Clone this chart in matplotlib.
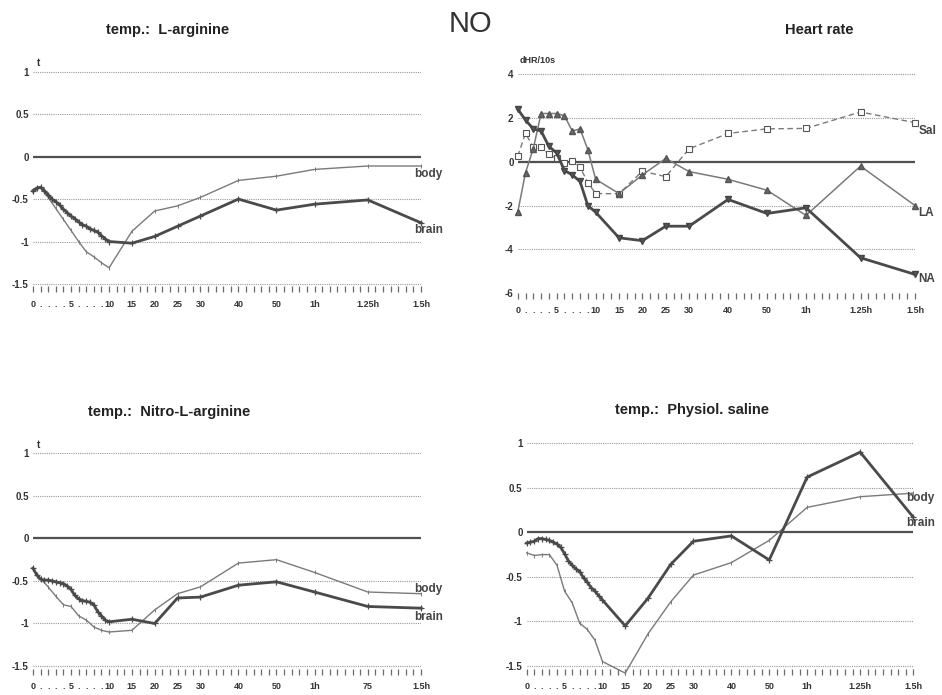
import numpy as np
import matplotlib.pyplot as plt

plt.rcParams['font.family'] = ['Liberation Sans', 'DejaVu Sans']

# time points (minutes)
t_min = [0, 1, 2, 3, 4, 5, 6, 7, 8, 9, 10]
t_half = [0, 0.5, 1, 1.5, 2, 2.5, 3, 3.5, 4, 4.5, 5, 5.5, 6, 6.5, 7, 7.5,
          8, 8.5, 9, 9.5, 10]
t_late = [15, 20, 25, 30, 40, 50, 60, 75, 90]

tick_pos = [0, 1, 2, 3, 4, 5, 6, 7, 8, 9, 10, 15, 20, 25, 30, 40, 50, 60, 75, 90]
tick_lab = ['0', '.', '.', '.', '.', '5', '.', '.', '.', '.', '10',
            '15', '20', '25', '30', '40', '50', '1h', '1.25h', '1.5h']
tick_lab_nla = tick_lab[:-2] + ['75', '1.5h']

temp_ticks = [1, 0.5, 0, -0.5, -1, -1.5]
temp_labels = ['1', '0.5', '0', '-0.5', '-1', '-1.5']
hr_ticks = [4, 2, 0, -2, -4, -6]
hr_labels = ['4', '2', '0', '-2', '-4', '-6']

# temp.: L-arginine
la_body = [-0.42, -0.36, -0.48, -0.61, -0.74, -0.87, -1.0, -1.12, -1.18, -1.25, -1.31,
           -0.88, -0.64, -0.58, -0.48, -0.28, -0.23, -0.15, -0.11, -0.11]
la_brain = [-0.40, -0.37, -0.36, -0.40, -0.45, -0.50, -0.53, -0.57, -0.62, -0.66, -0.70,
            -0.73, -0.77, -0.80, -0.82, -0.85, -0.87, -0.89, -0.93, -0.97, -1.00,
            -1.02, -0.94, -0.82, -0.70, -0.50, -0.63, -0.56, -0.51, -0.78]

# heart rate
hr_na = [2.4, 1.9, 1.5, 1.4, 0.7, 0.4, -0.4, -0.6, -0.9, -2.0, -2.3,
         -3.47, -3.6, -2.94, -2.94, -1.72, -2.36, -2.1, -4.38, -5.14]
hr_la = [-2.3, -0.5, 0.6, 2.2, 2.2, 2.2, 2.1, 1.4, 1.5, 0.55, -0.8,
         -1.45, -0.6, 0.15, -0.45, -0.8, -1.3, -2.45, -0.2, -2.0]
hr_sal = [0.25, 1.3, 0.65, 0.65, 0.35, 0.15, -0.05, 0.05, -0.25, -0.95, -1.45,
          -1.46, -0.43, -0.68, 0.59, 1.29, 1.5, 1.52, 2.27, 1.78]

# temp.: Nitro-L-arginine
nla_body = [-0.36, -0.47, -0.57, -0.68, -0.78, -0.80, -0.91, -0.96, -1.04, -1.08, -1.10,
            -1.08, -0.84, -0.65, -0.57, -0.29, -0.25, -0.40, -0.63, -0.65]
nla_brain = [-0.35, -0.43, -0.48, -0.49, -0.49, -0.50, -0.51, -0.52, -0.53, -0.56, -0.60,
             -0.67, -0.71, -0.73, -0.74, -0.75, -0.78, -0.86, -0.91, -0.96, -0.98,
             -0.95, -1.00, -0.70, -0.69, -0.55, -0.51, -0.63, -0.80, -0.82]

# temp.: Physiol. saline
sal_body = [-0.23, -0.26, -0.25, -0.25, -0.37, -0.66, -0.79, -1.02, -1.09, -1.21, -1.45,
            -1.58, -1.14, -0.78, -0.48, -0.34, -0.09, 0.28, 0.40, 0.44]
sal_brain = [-0.12, -0.11, -0.10, -0.07, -0.07, -0.08, -0.09, -0.11, -0.13, -0.17, -0.24,
             -0.32, -0.37, -0.41, -0.44, -0.51, -0.56, -0.62, -0.66, -0.71, -0.76,
             -1.05, -0.74, -0.36, -0.10, -0.04, -0.31, 0.62, 0.90, 0.17]

# piecewise time axis used in the original plots
knot_min = [-30, 0, 10, 30, 60, 90, 200]
knot_pos = [-30, 0, 10, 22, 37, 51, 102.33]


def fwd(m):
    return np.interp(m, knot_min, knot_pos)


def inv(p):
    return np.interp(p, knot_pos, knot_min)


DARK = '#4a4a4a'
MID = '#7a7a7a'


def setup(ax, yt, yl, ylim, labels):
    ax.set_xscale('function', functions=(fwd, inv))
    ax.set_xlim(0, 90)
    ax.set_ylim(*ylim)
    for s in ax.spines.values():
        s.set_visible(False)
    for y in yt:
        if y == 0:
            ax.axhline(y, color='#505050', lw=1.6, zorder=1)
        else:
            ax.axhline(y, color='#9a9a9a', lw=0.8, ls=(0, (1, 1)), zorder=1)
    ax.set_yticks(yt)
    ax.set_yticklabels(yl, fontsize=7, fontweight='bold', color='#333333')
    ax.tick_params(axis='y', length=0, pad=3)
    ax.set_xticks(tick_pos)
    ax.set_xticklabels(labels, fontsize=6.5, fontweight='bold', color='#333333')
    minor = [inv(k) for k in range(52) if inv(k) not in tick_pos]
    ax.set_xticks(minor, minor=True)
    ax.tick_params(axis='x', which='both', length=4.5, width=0.9, color='#6a6a6a',
                   direction='out', pad=5)


def temp_panel(ax, body, brain, labels, body_lbl_y, brain_lbl_y):
    setup(ax, temp_ticks, temp_labels, (-1.53, 1.02), labels)
    ax.plot(t_min + t_late, body, color=MID, lw=1.0, marker='|', ms=3,
            mew=0.7, clip_on=False, zorder=3)
    ax.plot(t_half + t_late, brain, color=DARK, lw=2.0, marker='+', ms=5,
            mew=0.9, clip_on=False, zorder=4)
    ax.text(88, body_lbl_y, 'body', fontsize=8.5, fontweight='bold', color='#444444',
            va='center', ha='left')
    ax.text(88, brain_lbl_y, 'brain', fontsize=8.5, fontweight='bold', color='#444444',
            va='center', ha='left')
    ax.text(0.5, 1.1, 't', fontsize=7, fontweight='bold', color='#333333',
            va='center', ha='left')


fig = plt.figure(figsize=(9.42, 6.95), dpi=100)

ax1 = fig.add_axes([0.035, 0.5878, 0.412, 0.3113])
temp_panel(ax1, la_body, la_brain, tick_lab, -0.21, -0.86)

ax2 = fig.add_axes([0.5496, 0.578, 0.4218, 0.318])
setup(ax2, hr_ticks, hr_labels, (-6, 4.08), tick_lab)
tm = t_min + t_late
ax2.plot(tm, hr_sal, color=MID, lw=1.0, ls=(0, (4, 2.5)), marker='s', ms=4.5,
         mfc='white', mec='#555555', mew=0.8, clip_on=False, zorder=3)
ax2.plot(tm, hr_la, color=MID, lw=1.1, marker='^', ms=5, mfc='#666666',
         mec='#555555', clip_on=False, zorder=4)
ax2.plot(tm, hr_na, color=DARK, lw=2.0, marker='v', ms=5, mfc='#555555',
         mec='#444444', clip_on=False, zorder=5)
ax2.text(91, 1.4, 'Sal', fontsize=8.5, fontweight='bold', color='#444444', va='center')
ax2.text(91, -2.36, 'LA', fontsize=8.5, fontweight='bold', color='#444444', va='center')
ax2.text(91, -5.37, 'NA', fontsize=8.5, fontweight='bold', color='#444444', va='center')
ax2.text(0.3, 4.6, 'dHR/10s', fontsize=6.5, fontweight='bold', color='#333333',
         va='center', ha='left')

ax3 = fig.add_axes([0.035, 0.038, 0.412, 0.3122])
temp_panel(ax3, nla_body, nla_brain, tick_lab_nla, -0.59, -0.92)

ax4 = fig.add_axes([0.5591, 0.0379, 0.4104, 0.3269])
temp_panel(ax4, sal_body, sal_brain, tick_lab, 0.38, 0.11)
ax4.texts[-1].remove()

fig.text(0.178, 0.957, 'temp.:  L-arginine', fontsize=10.5, fontweight='bold',
         color='#222222', ha='center', va='center')
fig.text(0.499, 0.966, 'NO', fontsize=21, color='#333333', ha='center', va='center')
fig.text(0.870, 0.957, 'Heart rate', fontsize=10.5, fontweight='bold',
         color='#222222', ha='center', va='center')
fig.text(0.180, 0.407, 'temp.:  Nitro-L-arginine', fontsize=10.5, fontweight='bold',
         color='#222222', ha='center', va='center')
fig.text(0.735, 0.410, 'temp.:  Physiol. saline', fontsize=10.5, fontweight='bold',
         color='#222222', ha='center', va='center')

fig.savefig('out.png', dpi=100, facecolor='white')
